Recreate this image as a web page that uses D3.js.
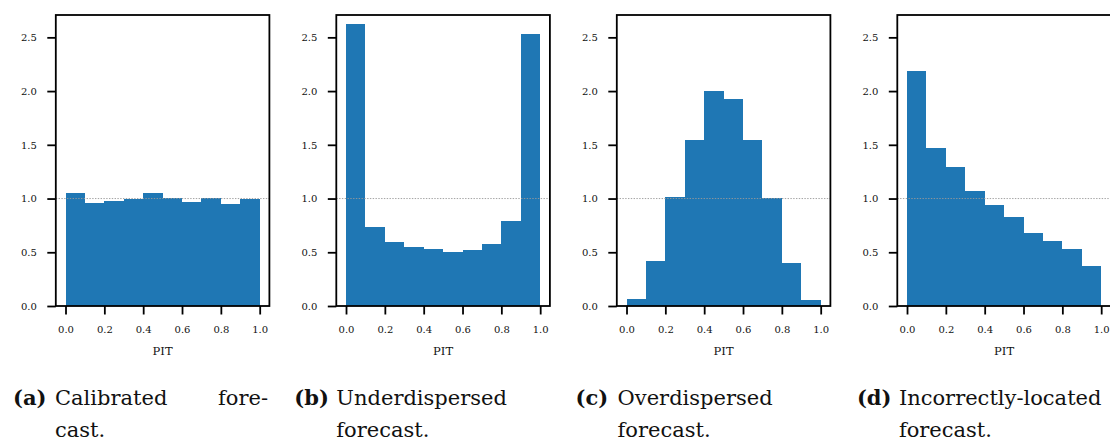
<!DOCTYPE html>
<html>
<head>
<meta charset="utf-8">
<script src="https://cdn.jsdelivr.net/npm/d3@7"></script>
<style>
  html, body { margin: 0; padding: 0; background: #fff; }
  svg { display: block; }
</style>
</head>
<body>
<svg id="fig" width="1110" height="442"></svg>
<script>
// PIT histogram bins (left edges) and bin width
const binLefts = [0.0, 0.1, 0.2, 0.3, 0.4, 0.5, 0.6, 0.7, 0.8, 0.9];
const binWidth = 0.1;

// Density of each bin, one array per forecast type
const calibrated         = [1.05, 0.96, 0.98, 0.995, 1.05, 1.005, 0.97, 1.005, 0.95, 0.995];
const underdispersed     = [2.62, 0.735, 0.595, 0.55, 0.53, 0.50, 0.52, 0.577, 0.794, 2.53];
const overdispersed      = [0.065, 0.42, 1.01, 1.545, 2.00, 1.926, 1.545, 1.005, 0.40, 0.056];
const incorrectlyLocated = [2.187, 1.47, 1.293, 1.07, 0.94, 0.828, 0.679, 0.605, 0.53, 0.372];

// Axis ticks and reference density of a uniform PIT
const xTicks = [0.0, 0.2, 0.4, 0.6, 0.8, 1.0];
const yTicks = [0.0, 0.5, 1.0, 1.5, 2.0, 2.5];
const uniformLevel = 1.0;
const xLabel = "PIT";

// Sub-figure captions: tag plus caption lines (each line is a list of words)
const captionTags = ["(a)", "(b)", "(c)", "(d)"];
const captionLines = [
  [["Calibrated", "fore-"], ["cast."]],
  [["Underdispersed"], ["forecast."]],
  [["Overdispersed"], ["forecast."]],
  [["Incorrectly-located"], ["forecast."]]
];

const panels = [calibrated, underdispersed, overdispersed, incorrectlyLocated];

const svg = d3.select("#fig");
const barColor = "#1f77b4";
const serif = "'DejaVu Serif', serif";

const axTop = 15, axBottom = 306, axWidth = 213.6;
const axLeft0 = 55.8, axStep = 280.5;

panels.forEach((vals, i) => {
  const left = axLeft0 + i * axStep;
  const x = d3.scaleLinear().domain([-0.05, 1.05]).range([left, left + axWidth]);
  const y = d3.scaleLinear().domain([0, 2.708]).range([axBottom, axTop]);
  const g = svg.append("g");

  // histogram bars
  g.selectAll("rect.bar")
    .data(binLefts.map((b, k) => ({ b, v: vals[k] })))
    .join("rect")
    .attr("class", "bar")
    .attr("x", d => x(d.b))
    .attr("width", d => x(d.b + binWidth) - x(d.b))
    .attr("y", d => y(d.v))
    .attr("height", d => y(0) - y(d.v))
    .attr("fill", barColor)
    .attr("shape-rendering", "crispEdges");

  // uniform reference line
  g.append("line")
    .attr("x1", x(-0.05)).attr("x2", x(1.05))
    .attr("y1", y(uniformLevel)).attr("y2", y(uniformLevel))
    .attr("stroke", "#9a9a9a")
    .attr("stroke-width", 0.9)
    .attr("stroke-dasharray", "1.4,1.4");

  // axes frame
  g.append("rect")
    .attr("x", x(-0.05)).attr("y", axTop)
    .attr("width", axWidth).attr("height", axBottom - axTop)
    .attr("fill", "none").attr("stroke", "#000").attr("stroke-width", 1.8);

  // x axis
  const xa = g.append("g")
    .attr("transform", `translate(0,${axBottom})`)
    .call(d3.axisBottom(x).tickValues(xTicks).tickFormat(d3.format(".1f"))
      .tickSize(8.5).tickPadding(11.5));
  xa.select(".domain").remove();
  xa.attr("font-family", serif).attr("font-size", 10);
  xa.selectAll(".tick line").attr("stroke", "#000").attr("stroke-width", 1.8);
  xa.selectAll(".tick text").attr("fill", "#111");

  // y axis
  const ya = g.append("g")
    .attr("transform", `translate(${x(-0.05)},0)`)
    .call(d3.axisLeft(y).tickValues(yTicks).tickFormat(d3.format(".1f"))
      .tickSize(8.5).tickPadding(10.5));
  ya.select(".domain").remove();
  ya.attr("font-family", serif).attr("font-size", 10);
  ya.selectAll(".tick line").attr("stroke", "#000").attr("stroke-width", 1.8);
  ya.selectAll(".tick text").attr("fill", "#111");

  // x label
  g.append("text")
    .attr("x", x(0.5)).attr("y", 355)
    .attr("text-anchor", "middle")
    .attr("font-family", serif).attr("font-size", 11.5)
    .attr("fill", "#111")
    .text(xLabel);

  // caption
  const tagX = 13 + i * 281.3;
  const textX = tagX + 42;
  const capRight = tagX + 255;
  const baselines = [405, 436.5];
  const cap = svg.append("g").attr("font-family", serif).attr("font-size", 21).attr("fill", "#111");
  cap.append("text")
    .attr("x", tagX).attr("y", baselines[0])
    .attr("font-weight", "bold")
    .text(captionTags[i]);
  captionLines[i].forEach((words, li) => {
    if (words.length > 1) {
      // justified line: first word at the indent, last word flush right
      cap.append("text").attr("x", textX).attr("y", baselines[li]).text(words[0]);
      cap.append("text").attr("x", capRight).attr("y", baselines[li])
        .attr("text-anchor", "end").text(words[words.length - 1]);
    } else {
      cap.append("text").attr("x", textX).attr("y", baselines[li]).text(words[0]);
    }
  });
});
</script>
</body>
</html>
